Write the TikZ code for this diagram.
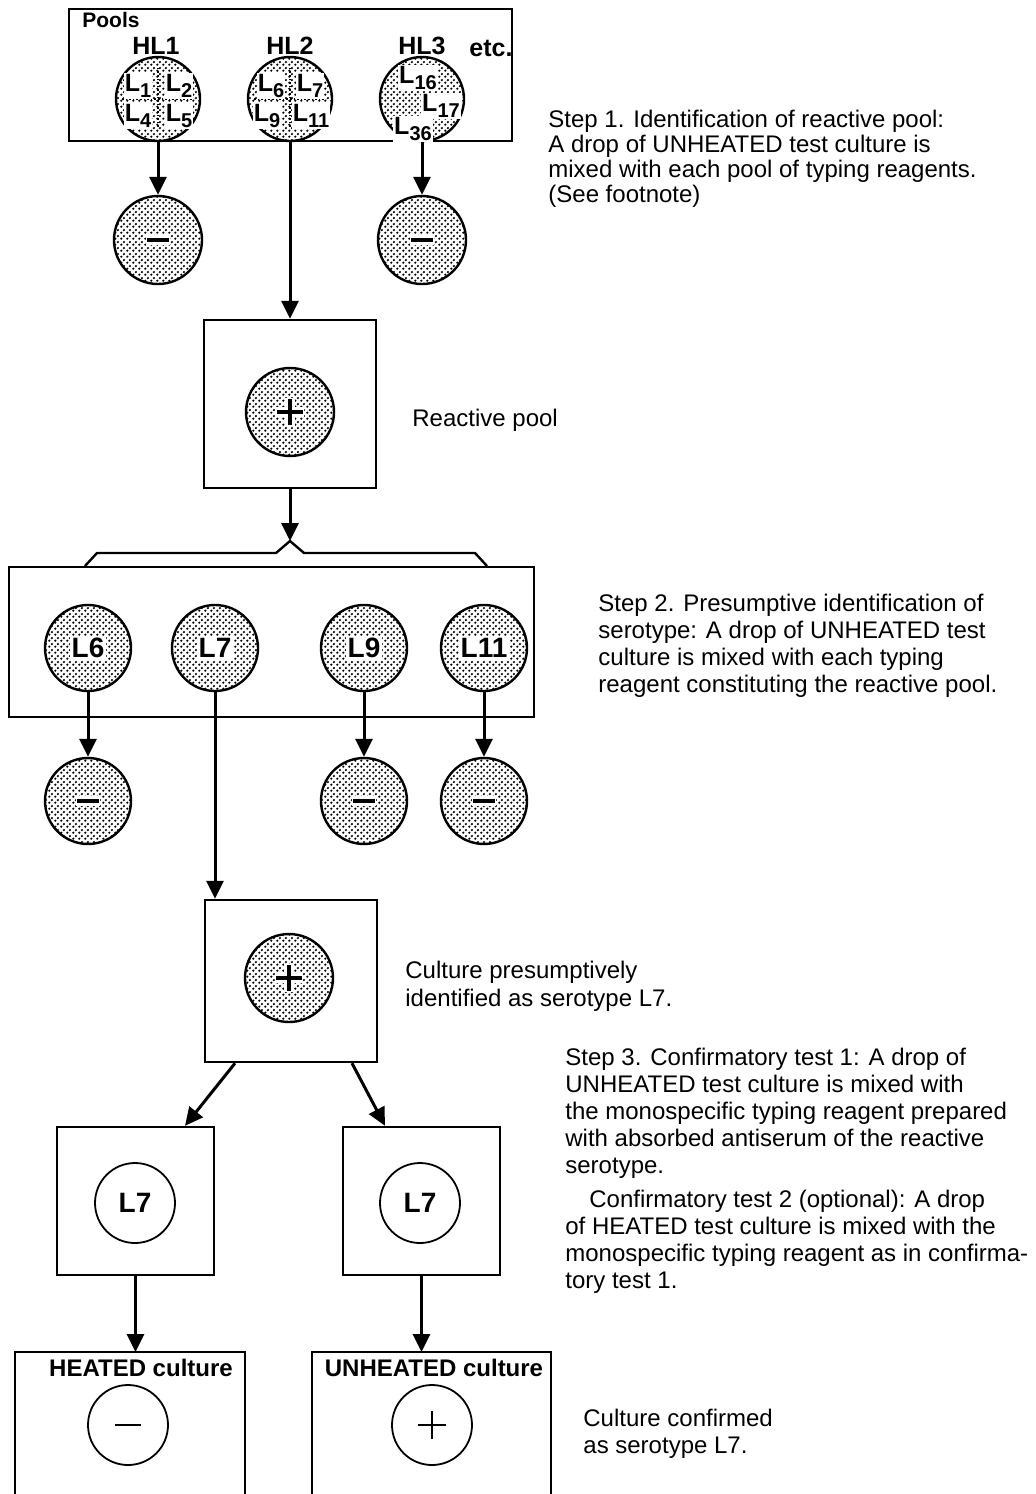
\documentclass[tikz,border=0pt]{standalone}
\usepackage{fontspec}
\setmainfont{Liberation Sans}
\usetikzlibrary{patterns,arrows.meta}
\pgfdeclarepatternformonly{screendots}{\pgfqpoint{0pt}{0pt}}{\pgfqpoint{3pt}{3pt}}{\pgfqpoint{3pt}{3pt}}{%
  \pgfpathcircle{\pgfqpoint{0.75pt}{0.75pt}}{0.7pt}%
  \pgfpathcircle{\pgfqpoint{2.25pt}{2.25pt}}{0.7pt}%
  \pgfusepath{fill}}
\newcommand\Lsub[1]{L\raisebox{-0.45ex}{\fontsize{10}{10}\selectfont #1}}
\begin{document}
\begin{tikzpicture}[x=0.5pt,y=-0.5pt,
  box/.style={draw,line width=1.2pt,inner sep=0pt},
  dc/.style={circle,draw,line width=1.2pt,pattern=screendots,inner sep=0pt,minimum size=#1},
  oc/.style={circle,draw,line width=0.9pt,inner sep=0pt,minimum size=#1},
  arr/.style={line width=1.5pt,-{Triangle[width=8.5pt,length=9pt]}},
  lab/.style={font=\bfseries\fontsize{14}{14}\selectfont,fill=white,inner sep=1pt},
  plab/.style={font=\bfseries\fontsize{12.5}{12.5}\selectfont,fill=white,inner sep=0.5pt},
  hd/.style={font=\bfseries\fontsize{12.5}{13}\selectfont,inner sep=0pt},
  bt/.style={font=\bfseries\fontsize{12}{13}\selectfont,inner sep=0pt},
  body/.style={anchor=west,align=left,font=\fontsize{12}{13.5}\selectfont,inner sep=0pt},
  bar/.style={line width=2pt},
  halo/.style={white,line width=5pt},
]
\useasboundingbox (0,0) rectangle (1035,1494);

% ---------- pools box ----------
\node[box,minimum width=221.5pt,minimum height=66pt] (pools) at (290.5,75) {};
\node[anchor=west,font=\bfseries\fontsize{10.5}{11}\selectfont,inner sep=0pt] (poolst) at (82,20) {Pools};
\node[hd] (hl1) at (156,46) {HL1};
\node[hd] (hl2) at (290,46) {HL2};
\node[hd] (hl3) at (422,46) {HL3};
\node[hd] (etc) at (491,48) {etc.};

\node[dc=42pt] (p1) at (158,99) {};
\node[dc=42pt] (p2) at (290,99) {};
\node[dc=42pt] (p3) at (422,99) {};
\draw[densely dotted,line width=0.8pt] ([xshift=-18pt]p1.center) -- ([xshift=18pt]p1.center);
\draw[densely dotted,line width=0.8pt] ([yshift=-14pt]p1.center) -- ([yshift=16pt]p1.center);
\draw[densely dotted,line width=0.8pt] ([xshift=-18pt]p2.center) -- ([xshift=18pt]p2.center);
\draw[densely dotted,line width=0.8pt] ([yshift=-14pt]p2.center) -- ([yshift=16pt]p2.center);
\node[plab] (l1) at (138,86) {\Lsub{1}};
\node[plab] (l2) at (179,86) {\Lsub{2}};
\node[plab] (l4) at (138,116) {\Lsub{4}};
\node[plab] (l5) at (179,116) {\Lsub{5}};
\node[plab] (l6s) at (271,86) {\Lsub{6}};
\node[plab] (l7s) at (310,86) {\Lsub{7}};
\node[plab] (l9s) at (267,116) {\Lsub{9}};
\node[plab] (l11s) at (311,116) {\Lsub{11}};
\node[plab] (l16) at (418,78) {\Lsub{16}};
\node[plab] (l17) at (441,106) {\Lsub{17}};
\node[plab] (l36) at (413,129) {\Lsub{36}};

\node[dc=44pt] (m1) at (158,240) {};
\node[dc=44pt] (m3) at (422,240) {};
\draw[arr] (p1.south) -- (m1.north);
\draw[arr] (p3.south) -- (m3.north);
\draw[halo] ([xshift=-6pt]m1.center) -- ([xshift=6pt]m1.center);
\draw[bar] ([xshift=-5.5pt]m1.center) -- ([xshift=5.5pt]m1.center);
\draw[halo] ([xshift=-6pt]m3.center) -- ([xshift=6pt]m3.center);
\draw[bar] ([xshift=-5.5pt]m3.center) -- ([xshift=5.5pt]m3.center);

% ---------- reactive pool ----------
\node[box,minimum width=86pt,minimum height=84pt] (rbox) at (290,404) {};
\node[dc=44pt] (rc) at (290,412) {};
\draw[halo] ([xshift=-7pt]rc.center) -- ([xshift=7pt]rc.center);
\draw[halo] ([yshift=-7pt]rc.center) -- ([yshift=7pt]rc.center);
\draw[bar] ([xshift=-6.5pt]rc.center) -- ([xshift=6.5pt]rc.center);
\draw[bar] ([yshift=-6.5pt]rc.center) -- ([yshift=6.5pt]rc.center);
\draw[arr] (p2.south) -- (p2.south |- rbox.north);

\coordinate (peak) at (290,541);
\draw[arr] (rbox.south) -- (peak);
\draw[line width=1.2pt,line join=round] (85,566) -- (97,553) -- (276,553) -- (peak) -- (304,553) -- (475,553) -- (487,566);

% ---------- step 2 ----------
\node[box,minimum width=262.5pt,minimum height=75pt] (s2box) at (271.5,642) {};
\node[dc=43pt] (c6) at (88,648) {};
\node[dc=43pt] (c7) at (215,648) {};
\node[dc=43pt] (c9) at (364,648) {};
\node[dc=43pt] (c11) at (484,648) {};
\node[lab] (t6) at (c6) {L6};
\node[lab] (t7) at (c7) {L7};
\node[lab] (t9) at (c9) {L9};
\node[lab] (t11) at (c11) {L11};

\node[dc=43pt] (n6) at (88,801) {};
\node[dc=43pt] (n9) at (364,801) {};
\node[dc=43pt] (n11) at (484,801) {};
\draw[arr] (c6.south) -- (n6.north);
\draw[arr] (c9.south) -- (n9.north);
\draw[arr] (c11.south) -- (n11.north);
\foreach \n in {n6,n9,n11}{
  \draw[halo] ([xshift=-6pt]\n.center) -- ([xshift=6pt]\n.center);
  \draw[bar] ([xshift=-5.5pt]\n.center) -- ([xshift=5.5pt]\n.center);
}

% ---------- culture box ----------
\node[box,minimum width=86pt,minimum height=81pt] (cb) at (291,981) {};
\node[dc=44pt] (cc) at (289,978) {};
\draw[halo] ([xshift=-7pt]cc.center) -- ([xshift=7pt]cc.center);
\draw[halo] ([yshift=-7pt]cc.center) -- ([yshift=7pt]cc.center);
\draw[bar] ([xshift=-6.5pt]cc.center) -- ([xshift=6.5pt]cc.center);
\draw[bar] ([yshift=-6.5pt]cc.center) -- ([yshift=6.5pt]cc.center);
\draw[arr] (c7.south) -- (c7.south |- cb.north);

% ---------- confirmatory ----------
\node[box,minimum width=78.5pt,minimum height=74pt] (lb) at (135.5,1201) {};
\node[box,minimum width=78.5pt,minimum height=74pt] (rb) at (421.5,1201) {};
\node[oc=40pt,font=\bfseries\fontsize{14}{14}\selectfont] (lc) at (135,1203) {L7};
\node[oc=40pt,font=\bfseries\fontsize{14}{14}\selectfont] (rc2) at (420,1203) {L7};
\draw[arr] ([xshift=-28pt]cb.south) -- ([xshift=24.75pt]lb.north);
\draw[arr] ([xshift=30.5pt]cb.south) -- ([xshift=-18.25pt]rb.north);

% ---------- bottom boxes ----------
\coordinate (hb) at (135,1352);
\coordinate (ub) at (421.5,1352);
\draw[line width=1.2pt] (15,1494) |- (245,1352) -- (245,1494);
\draw[line width=1.2pt] (312,1494) |- (551,1352) -- (551,1494);
\draw[arr] (lb.south) -- (lb.south |- hb);
\draw[arr] (rb.south) -- (rb.south |- ub);
\node[bt] (ht) at (141,1368) {HEATED culture};
\node[bt] (ut) at (434,1368) {UNHEATED culture};
\node[oc=40pt] (hc) at (128,1425) {};
\node[oc=40pt] (uc) at (432,1425) {};
\draw[line width=1.4pt] ([xshift=-6.5pt]hc.center) -- ([xshift=6.5pt]hc.center);
\draw[line width=1.2pt] ([xshift=-7pt]uc.center) -- ([xshift=7pt]uc.center);
\draw[line width=1.2pt] ([yshift=-7pt]uc.center) -- ([yshift=7pt]uc.center);

% ---------- texts ----------
\node[body,font=\fontsize{12}{12.5}\selectfont] (step1) at (548,159) {Step 1. Identification of reactive pool:\\A drop of UNHEATED test culture is\\mixed with each pool of typing reagents.\\(See footnote)};
\node[body] (rptext) at (412,420) {Reactive pool};
\node[body] (step2) at (598,646) {Step 2. Presumptive identification of\\serotype: A drop of UNHEATED test\\culture is mixed with each typing\\reagent constituting the reactive pool.};
\node[body,font=\fontsize{12}{14}\selectfont] (ctext) at (405,986) {Culture presumptively\\identified as serotype L7.};
\node[body] (step3) at (565,1171) {Step 3. Confirmatory test 1: A drop of\\UNHEATED test culture is mixed with\\the monospecific typing reagent prepared\\with absorbed antiserum of the reactive\\serotype.\\[3.5pt]\hspace*{12pt}Confirmatory test 2 (optional): A drop\\of HEATED test culture is mixed with the\\monospecific typing reagent as in confirma-\\tory test 1.};
\node[body] (conf) at (583,1434) {Culture confirmed\\as serotype L7.};
\end{tikzpicture}
\end{document}
